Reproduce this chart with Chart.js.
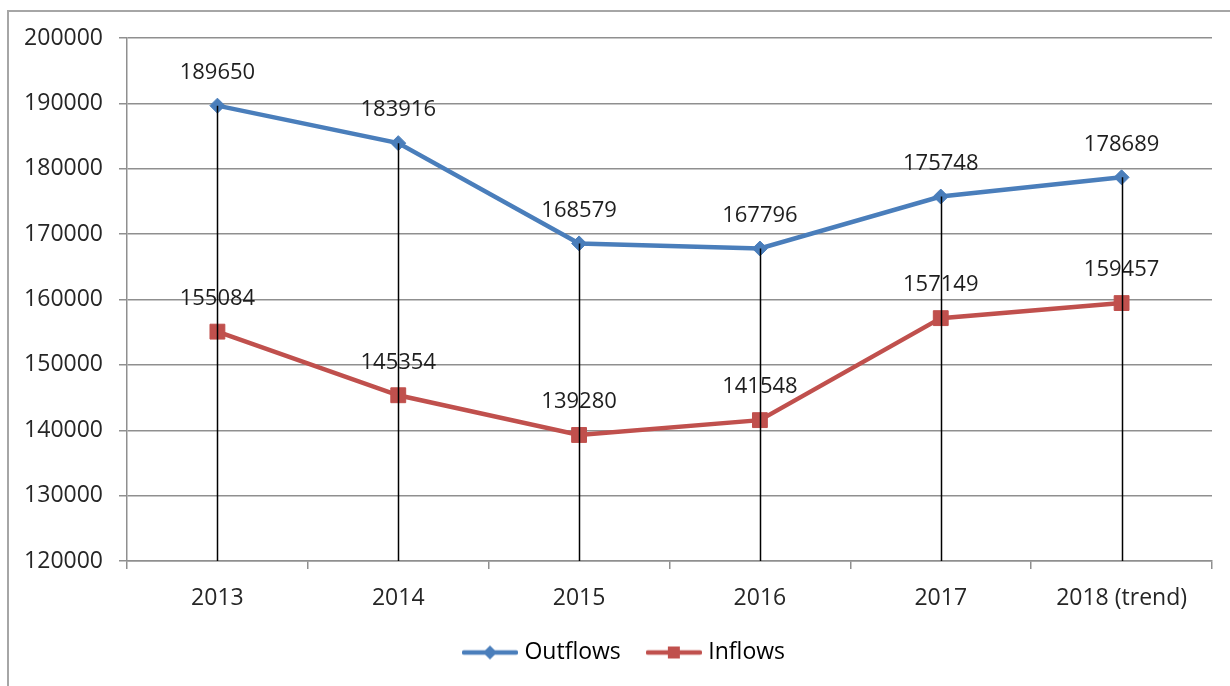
<!DOCTYPE html>
<html>
<head>
<meta charset="utf-8">
<script src="https://cdn.jsdelivr.net/npm/chart.js@4.4.1/dist/chart.umd.min.js"></script>
<style>
  html, body { margin: 0; padding: 0; background: #fff; overflow: hidden; }
  #wrap { position: relative; width: 1230px; height: 686px; }
  #frame { position: absolute; left: 7px; top: 10px; width: 1240px; height: 690px;
           border: 2px solid #a6a6a6; box-sizing: border-box; pointer-events: none; }
  canvas { position: absolute; left: 0; top: 0; }
</style>
</head>
<body>
<div id="wrap">
  <div id="frame"></div>
  <canvas id="chart" width="1230" height="686"></canvas>
</div>
<script>
// ===== DATA =====
const years = ["2013", "2014", "2015", "2016", "2017", "2018 (trend)"];
const outflows = [189650, 183916, 168579, 167796, 175748, 178689];
const inflows = [155084, 145354, 139280, 141548, 157149, 159457];
const yTicks = [120000, 130000, 140000, 150000, 160000, 170000, 180000, 190000, 200000];

const BLUE = "#4a7ebb";
const RED = "#c0504d";
const FONT = "'Open Sans', 'Noto Sans', sans-serif";
const FSIZE = 23;

// ikon legend: garis + marker
function legendIcon(color, shape) {
  const c = document.createElement("canvas");
  c.width = 56; c.height = 16;
  const g = c.getContext("2d");
  g.strokeStyle = color; g.lineWidth = 4.5; g.lineCap = "round";
  g.beginPath(); g.moveTo(2, 8); g.lineTo(54, 8); g.stroke();
  g.fillStyle = color;
  g.beginPath();
  if (shape === "diamond") {
    g.moveTo(28, 1); g.lineTo(35, 8); g.lineTo(28, 15); g.lineTo(21, 8);
  } else {
    g.rect(22, 2, 12, 12);
  }
  g.closePath(); g.fill();
  return c;
}

// label nilai + garis jatuh
const extras = {
  id: "extras",
  afterLayout(chart) {
    // geser legend sedikit ke kanan, seperti aslinya
    if (chart.legend) chart.legend.left += 40;
  },
  afterDatasetsDraw(chart) {
    const ctx = chart.ctx;
    const area = chart.chartArea;
    ctx.save();
    ctx.font = "22px " + FONT;
    ctx.fillStyle = "#1e1e1e";
    ctx.textAlign = "center";
    ctx.textBaseline = "middle";
    chart.data.datasets.forEach((ds, i) => {
      chart.getDatasetMeta(i).data.forEach((pt, j) => {
        ctx.fillText(String(ds.data[j]), pt.x, pt.y - 33);
      });
    });
    // drop lines dari titik tertinggi ke sumbu
    const top = chart.getDatasetMeta(0).data;
    ctx.strokeStyle = "#000";
    ctx.lineWidth = 1.5;
    top.forEach((pt) => {
      ctx.beginPath();
      ctx.moveTo(Math.round(pt.x) + 0.5, pt.y);
      ctx.lineTo(Math.round(pt.x) + 0.5, area.bottom);
      ctx.stroke();
    });
    ctx.restore();
  }
};

const icons = [legendIcon(BLUE, "diamond"), legendIcon(RED, "square")];

new Chart(document.getElementById("chart"), {
  type: "line",
  data: {
    labels: years,
    datasets: [
      {
        label: "Outflows",
        data: outflows,
        borderColor: BLUE,
        backgroundColor: BLUE,
        borderWidth: 4.5,
        pointStyle: "rectRot",
        pointRadius: 7.5,
        pointBorderWidth: 1,
        tension: 0
      },
      {
        label: "Inflows",
        data: inflows,
        borderColor: RED,
        backgroundColor: RED,
        borderWidth: 4.5,
        pointStyle: "rect",
        pointRadius: 10.5,
        pointBorderWidth: 1,
        tension: 0
      }
    ]
  },
  options: {
    responsive: false,
    animation: false,
    layout: { padding: { left: 0, top: 38, right: 18, bottom: 12 } },
    plugins: {
      tooltip: { enabled: false },
      legend: {
        position: "bottom",
        labels: {
          font: { family: FONT, size: FSIZE },
          color: "#1e1e1e",
          usePointStyle: true,
          pointStyleWidth: 46,
          boxHeight: 16,
          padding: 30,
          generateLabels(chart) {
            return chart.data.datasets.map((ds, i) => ({
              text: ds.label,
              pointStyle: icons[i],
              fillStyle: ds.borderColor,
              strokeStyle: ds.borderColor,
              lineWidth: 0,
              hidden: false,
              datasetIndex: i
            }));
          }
        }
      }
    },
    scales: {
      x: {
        offset: true,
        afterFit(scale) { scale.height = 50; },
        grid: {
          offset: true,
          drawOnChartArea: false,
          drawTicks: true,
          tickLength: 8,
          color: "#8f8f8f",
          lineWidth: 1.5
        },
        border: { display: true, color: "#8f8f8f", width: 1.5 },
        ticks: {
          font: { family: FONT, size: FSIZE },
          color: "#262626",
          padding: 16,
          maxRotation: 0
        }
      },
      y: {
        min: yTicks[0],
        max: yTicks[yTicks.length - 1],
        afterFit(scale) { scale.width = 127; },
        afterBuildTicks(scale) { scale.ticks = yTicks.map((v) => ({ value: v })); },
        grid: {
          color: "#8f8f8f",
          lineWidth: 1.5,
          drawTicks: true,
          tickLength: 8
        },
        border: { display: true, color: "#8f8f8f", width: 1.5 },
        ticks: {
          font: { family: FONT, size: FSIZE },
          color: "#262626",
          padding: 16,
          callback: (v) => String(v)
        }
      }
    }
  },
  plugins: [extras]
});
</script>
</body>
</html>
